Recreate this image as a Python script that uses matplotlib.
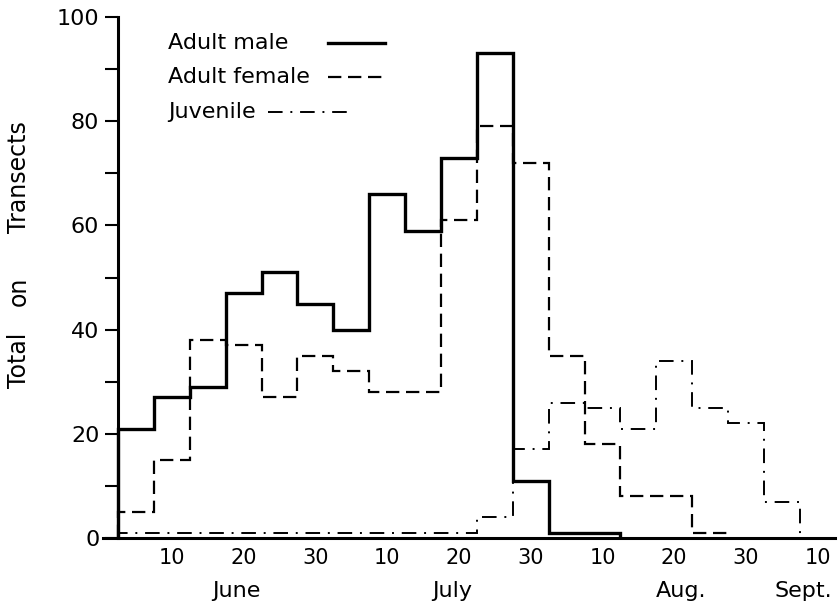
import matplotlib.pyplot as plt
from matplotlib.lines import Line2D
import matplotlib.transforms as mtransforms

# counts per 5-day period, period centres in days (10 days between labels)
period_mid = [5, 10, 15, 20, 25, 30, 35, 40, 45, 50,
              55, 60, 65, 70, 75, 80, 85, 90, 95, 100]

male = [21, 27, 29, 47, 51, 45, 40, 66, 59, 73, 93, 11, 1, 1]
female = [5, 15, 38, 37, 27, 35, 32, 28, 28, 61, 79, 72, 35, 18, 8, 8, 1]
juvenile = [1, 1, 1, 1, 1, 1, 1, 1, 1, 1, 4, 17, 26, 25, 21, 34, 25, 22, 7]

day_ticks = [10, 20, 30, 40, 50, 60, 70, 80, 90, 100]
day_labels = ["10", "20", "30", "10", "20", "30", "10", "20", "30", "10"]
months = ["June", "July", "Aug.", "Sept."]
month_pos = [19, 49, 81, 98]

series = [
    ("Adult male", male, dict(lw=2.4, ls="-")),
    ("Adult female", female, dict(lw=1.6, ls=(0, (6, 3)))),
    ("Juvenile", juvenile, dict(lw=1.4, ls=(0, (7.5, 4, 1, 4)))),
]

plt.rcParams["font.family"] = "DejaVu Sans"

fig = plt.figure(figsize=(8.4, 6.09), dpi=100)
ax = fig.add_axes([103 / 840, 71 / 609, 732 / 840, 521 / 609])

half = 2.5
for name, vals, style in series:
    edges = [period_mid[0] - half] + [m + half for m in period_mid[:len(vals)]]
    ax.stairs(vals, edges, baseline=0, color="black", **style)

ax.set_xlim(0.41, 102.4)
ax.set_ylim(0, 100)

for s in ["top", "right"]:
    ax.spines[s].set_visible(False)
ax.spines["left"].set_position(("data", period_mid[0] - half))
ax.spines["left"].set_bounds(0, 100)
ax.spines["left"].set_linewidth(2.2)
ax.spines["bottom"].set_linewidth(2.2)

ax.set_yticks([0, 20, 40, 60, 80, 100])
ax.set_yticks([10, 30, 50, 70, 90], minor=True)
ax.tick_params(axis="y", which="both", direction="out", length=9.5, width=1.5,
               labelsize=16, pad=4)
ax.set_xticks(day_ticks)
ax.set_xticklabels(day_labels)
ax.tick_params(axis="x", length=0, labelsize=15, pad=7)

trans = mtransforms.blended_transform_factory(ax.transData, ax.transAxes)
for m, x in zip(months, month_pos):
    ax.text(x, -0.102, m, transform=trans, ha="center", va="center", fontsize=16)

# y label is widely spaced in the original, so place each word
for word, yc in [("Total", 360), ("on", 291), ("Transects", 177)]:
    fig.text(19 / 840, 1 - yc / 609, word, rotation=90,
             ha="center", va="center", fontsize=17)

# legend: label first, line sample after it
leg_rows = [(0.950, 0.308, 0.385), (0.885, 0.307, 0.385), (0.818, 0.225, 0.333)]
for (name, vals, style), (y, x0, x1) in zip(series, leg_rows):
    ax.text(0.089, y, name, transform=ax.transAxes, ha="left", va="center",
            fontsize=16)
    ax.add_line(Line2D([x0, x1], [y, y], transform=ax.transAxes, color="black",
                       **style))

fig.savefig("out.png", dpi=100)
